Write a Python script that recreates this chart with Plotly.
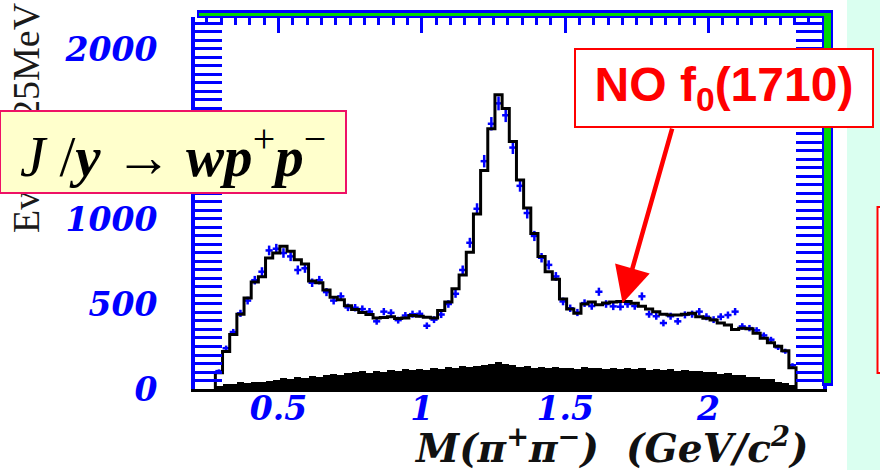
import numpy as np
import plotly.graph_objects as go

# 25 MeV bins in M(pi+ pi-), first lower edge at 0.28 GeV/c^2
bin_start = 0.28
bin_width = 0.025

# fitted spectrum (black histogram), events per bin
fit_counts = [
    95, 220, 320, 440, 535, 630, 660, 770, 800, 840,
    810, 760, 735, 635, 625, 582, 540, 525, 490, 468,
    450, 438, 418, 420, 425, 415, 418, 432, 428, 422,
    418, 462, 512, 590, 670, 805, 1030, 1285, 1530, 1730,
    1650, 1455, 1230, 1065, 915, 780, 690, 645, 530, 470,
    445, 500, 512, 495, 506, 512, 514, 514, 504, 486,
    470, 455, 440, 435, 435, 440, 445, 425, 416, 406,
    388, 376, 350, 357, 355, 328, 298, 272, 252, 225,
    125,
]

# measured events per bin (blue crosses)
data_counts = [
    105, 240, 335, 445, 520, 640, 690, 815, 825, 800,
    780, 700, 710, 625, 640, 570, 520, 545, 480, 478,
    470, 455, 398, 455, 448, 405, 432, 440, 442, 372,
    408, 438, 500, 560, 700, 860, 1060, 1340, 1560, 1680,
    1610, 1420, 1195, 1035, 900, 772, 730, 662, 515, 475,
    450, 505, 488, 572, 500, 486, 484, 500, 488, 545,
    440, 428, 388, 428, 398, 436, 440, 455, 425, 408,
    425, 435, 455, 368, 358, 345, 315, 290, 245, 222,
    140,
]

# background estimate (black band near zero)
bkg_counts = [
    20, 32, 30, 40, 36, 44, 42, 50, 52, 64,
    58, 68, 66, 74, 70, 80, 86, 84, 96, 98,
    104, 96, 108, 102, 112, 106, 116, 110, 118, 114,
    122, 118, 128, 124, 134, 128, 138, 142, 148, 160,
    150, 144, 132, 136, 126, 130, 122, 128, 124, 126,
    120, 127, 121, 125, 118, 124, 120, 122, 116, 121,
    114, 118, 112, 116, 108, 112, 104, 106, 98, 100,
    90, 92, 82, 84, 72, 70, 60, 56, 44, 36,
    22,
]

y_title = "Events/25MeV"
x_title = "<b><i>M(π<sup>+</sup>π<sup>−</sup>)  (GeV/c<sup>2</sup>)</i></b>"
decay_label = ("<i>J</i> /<b><i>y</i></b> → <b><i>wp</i></b><sup>+</sup>"
               "<b><i>p</i></b><sup>−</sup>")
note_label = "<b>NO f<sub>0</sub>(1710)</b>"
arrow_target = (1.70, 505)

n = len(fit_counts)
edges = bin_start + bin_width * np.arange(n + 1)
centers = edges[:-1] + bin_width / 2

BLUE = "#0000FF"
GREEN = "#00D800"

# figure geometry (pixels)
W, H = 880, 470
L, R, T, B = 195, 57, 17, 81
PW, PH = W - L - R, H - T - B


def px(xp):
    return (xp - L) / PW


def py(yp):
    return (H - B - yp) / PH


x_range = [0.209, 2.399]
y_range = [0, 2188]

fig = go.Figure()

fig.add_trace(go.Bar(
    x=centers, y=bkg_counts, width=bin_width,
    marker=dict(color="black", line=dict(width=0)),
    hoverinfo="skip",
))

fig.add_trace(go.Scatter(
    x=centers, y=data_counts, mode="markers",
    marker=dict(size=1, color=BLUE),
    error_x=dict(type="constant", value=bin_width / 2, width=0,
                 thickness=2.5, color=BLUE),
    error_y=dict(type="sqrt", width=0, thickness=2.5, color=BLUE),
))

step_x = np.concatenate([[edges[0]], edges])
step_y = [0] + list(fit_counts) + [0]
fig.add_trace(go.Scatter(
    x=step_x, y=step_y, mode="lines", line_shape="hv",
    line=dict(color="black", width=3),
))

# carrier for the top tick axis
fig.add_trace(go.Scatter(
    x=[edges[0], edges[-1]], y=[0, 0], mode="lines",
    line=dict(width=0), xaxis="x2", hoverinfo="skip",
))

tick_font = dict(family="DejaVu Serif", size=33, color=BLUE,
                 weight="bold", style="italic")

fig.update_layout(
    width=W, height=H,
    margin=dict(l=L, r=R, t=T, b=B, pad=0),
    paper_bgcolor="white", plot_bgcolor="white",
    showlegend=False, bargap=0,
    xaxis=dict(
        range=x_range, showgrid=False, zeroline=False,
        showline=True, linecolor="black", linewidth=3,
        ticks="", tick0=0, dtick=0.5, tickfont=tick_font,
        ticklabelstandoff=-12,
    ),
    xaxis2=dict(
        range=x_range, overlaying="x", side="top", anchor="y",
        showgrid=False, zeroline=False, showline=False,
        showticklabels=False,
        ticks="inside", tick0=0, dtick=0.5, ticklen=16, tickwidth=3,
        tickcolor=BLUE,
        minor=dict(ticks="inside", dtick=0.05, ticklen=8, tickwidth=3,
                   tickcolor=BLUE),
    ),
    yaxis=dict(
        range=y_range, showgrid=False, zeroline=False,
        showline=True, linecolor=BLUE, linewidth=4, mirror="allticks",
        ticks="inside", tick0=0, dtick=500, ticklen=27, tickwidth=3,
        tickcolor=BLUE,
        minor=dict(ticks="inside", dtick=50, ticklen=13, tickwidth=2.5,
                   tickcolor=BLUE),
        tickfont=tick_font, ticklabelstandoff=27,
    ),
)

shapes = [
    # pale strip at the right edge
    dict(type="rect", xref="paper", yref="paper",
         x0=px(847), x1=px(882), y0=py(472), y1=py(-2),
         fillcolor="#DAFFF0", line=dict(width=0), layer="below"),
    dict(type="rect", xref="paper", yref="paper",
         x0=px(877.5), x1=px(900), y0=py(373), y1=py(207),
         fillcolor="white", line=dict(color="red", width=2)),
    # frame bars along top and right
    dict(type="rect", xref="paper", yref="paper",
         x0=px(197), x1=px(833), y0=py(18), y1=py(10),
         fillcolor=BLUE, line=dict(width=0)),
    dict(type="rect", xref="paper", yref="paper",
         x0=px(822), x1=px(833), y0=py(386), y1=py(10),
         fillcolor=BLUE, line=dict(width=0)),
    dict(type="rect", xref="paper", yref="paper",
         x0=px(199), x1=px(831), y0=py(16), y1=py(13),
         fillcolor=GREEN, line=dict(width=0)),
    dict(type="rect", xref="paper", yref="paper",
         x0=px(824), x1=px(831), y0=py(383), y1=py(13),
         fillcolor=GREEN, line=dict(width=0)),
]
fig.update_layout(shapes=shapes)

annotations = [
    dict(text=y_title, xref="paper", yref="paper", x=px(26), y=py(118),
         textangle=-90, showarrow=False, xanchor="center", yanchor="middle",
         font=dict(family="Liberation Serif", size=38, color="#1a1a1a")),
    dict(text=x_title, xref="paper", yref="paper", x=px(611), y=py(445),
         showarrow=False, xanchor="center", yanchor="middle",
         font=dict(family="DejaVu Serif", size=39, color="#111111")),
    dict(text=decay_label, xref="paper", yref="paper", x=px(-1), y=py(110),
         xanchor="left", yanchor="top", showarrow=False,
         width=344, height=80, align="center", valign="middle",
         bgcolor="#FFFFCC", bordercolor="#EE1166", borderwidth=2, borderpad=0,
         font=dict(family="Liberation Serif", size=57, color="black")),
    dict(text=note_label, xref="paper", yref="paper", x=px(574), y=py(48),
         xanchor="left", yanchor="top", showarrow=False,
         width=296, height=76, align="center", valign="middle",
         bgcolor="white", bordercolor="red", borderwidth=2, borderpad=0,
         font=dict(family="Liberation Sans", size=48, color="red")),
    dict(text="", x=arrow_target[0], y=arrow_target[1], xref="x", yref="y",
         showarrow=True, ax=50, ay=-176, arrowcolor="red", arrowwidth=4.5,
         arrowhead=2, arrowsize=1.6, standoff=0),
]
fig.update_layout(annotations=annotations)

fig.write_html("out.html")
